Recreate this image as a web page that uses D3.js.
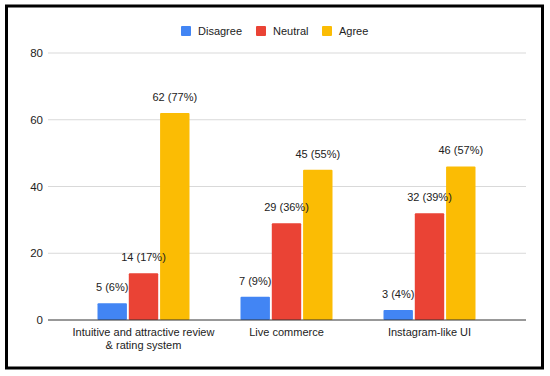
<!DOCTYPE html>
<html>
<head>
<meta charset="utf-8">
<script src="https://cdn.jsdelivr.net/npm/d3@7"></script>
<style>
  body { margin: 0; background: #fff; }
  text { font-family: Arial, "Liberation Sans", sans-serif; fill: #222; }
</style>
</head>
<body>
<div class="canvas"></div>
<script>
const categories = [
  ["Intuitive and attractive review", "& rating system"],
  ["Live commerce"],
  ["Instagram-like UI"]
];
const seriesNames = ["Disagree", "Neutral", "Agree"];
const disagree = [5, 7, 3];
const neutral = [14, 29, 32];
const agree = [62, 45, 46];
const disagreePct = [6, 9, 4];
const neutralPct = [17, 36, 39];
const agreePct = [77, 55, 57];
const yTicks = [0, 20, 40, 60, 80];

const colors = ["#4285F4", "#EA4335", "#FBBC04"];
const values = [disagree, neutral, agree];
const pcts = [disagreePct, neutralPct, agreePct];

const dims = { width: 550, height: 376 };
const plot = { left: 48, right: 526, top: 53, bottom: 320 };
const fontSize = 11;

const svg = d3
  .select(".canvas")
  .append("svg")
  .attr("width", dims.width)
  .attr("height", dims.height);

// frame
svg
  .append("rect")
  .attr("x", 6.5)
  .attr("y", 6)
  .attr("width", 536)
  .attr("height", 362)
  .attr("fill", "none")
  .attr("stroke", "#000")
  .attr("stroke-width", 3);

const y = d3.scaleLinear().domain([0, 80]).range([plot.bottom, plot.top]);

const x0 = d3
  .scaleBand()
  .domain(d3.range(categories.length))
  .range([72, 501])
  .paddingInner(0)
  .paddingOuter(0);

const x1 = d3
  .scaleBand()
  .domain(d3.range(seriesNames.length))
  .range([0, 92])
  .paddingInner(0.06);

const groupOffset = (x0.bandwidth() - 92) / 2;

// flat list of bars
const bars = [];
categories.forEach((c, ci) => {
  seriesNames.forEach((s, si) => {
    bars.push({ ci, si, v: values[si][ci], p: pcts[si][ci] });
  });
});
const barX = (d) => x0(d.ci) + groupOffset + x1(d.si);

// gridlines
svg
  .append("g")
  .selectAll("line")
  .data(yTicks.filter((t) => t > 0))
  .enter()
  .append("line")
  .attr("x1", plot.left)
  .attr("x2", plot.right)
  .attr("y1", (d) => y(d))
  .attr("y2", (d) => y(d))
  .attr("stroke", "#d9d9d9")
  .attr("stroke-width", 1);

// y tick labels
svg
  .append("g")
  .selectAll("text")
  .data(yTicks)
  .enter()
  .append("text")
  .attr("x", 43)
  .attr("y", (d) => y(d) + 4)
  .attr("text-anchor", "end")
  .attr("font-size", fontSize + 0.5)
  .text((d) => d);

// bars
svg
  .append("g")
  .selectAll("rect")
  .data(bars)
  .enter()
  .append("rect")
  .attr("x", barX)
  .attr("y", (d) => y(d.v))
  .attr("width", x1.bandwidth())
  .attr("height", (d) => y(0) - y(d.v))
  .attr("rx", 1)
  .attr("fill", (d) => colors[d.si]);

// value labels (on top of all bars)
svg
  .append("g")
  .selectAll("text")
  .data(bars)
  .enter()
  .append("text")
  .attr("x", (d) => barX(d) + x1.bandwidth() / 2)
  .attr("y", (d) => y(d.v) - 12)
  .attr("text-anchor", "middle")
  .attr("font-size", fontSize)
  .text((d) => `${d.v} (${d.p}%)`);

// baseline
svg
  .append("line")
  .attr("x1", plot.left)
  .attr("x2", plot.right)
  .attr("y1", y(0))
  .attr("y2", y(0))
  .attr("stroke", "#333")
  .attr("stroke-width", 1);

// category labels
const catLabels = svg
  .append("g")
  .selectAll("text")
  .data(categories)
  .enter()
  .append("text")
  .attr("x", (d, i) => x0(i) + x0.bandwidth() / 2)
  .attr("y", 336)
  .attr("text-anchor", "middle")
  .attr("font-size", fontSize);

catLabels
  .selectAll("tspan")
  .data((d) => d)
  .enter()
  .append("tspan")
  .attr("x", function () {
    return d3.select(this.parentNode).attr("x");
  })
  .attr("dy", (d, i) => (i === 0 ? 0 : 12.5))
  .text((d) => d);

// legend
const legendX = [181, 256, 322];
const legend = svg
  .append("g")
  .selectAll("g")
  .data(seriesNames)
  .enter()
  .append("g")
  .attr("transform", (d, i) => `translate(${legendX[i]}, 26)`);

legend
  .append("rect")
  .attr("width", 10)
  .attr("height", 10)
  .attr("rx", 1)
  .attr("fill", (d, i) => colors[i]);

legend
  .append("text")
  .attr("x", 17)
  .attr("y", 9)
  .attr("font-size", fontSize)
  .text((d) => d);
</script>
</body>
</html>
